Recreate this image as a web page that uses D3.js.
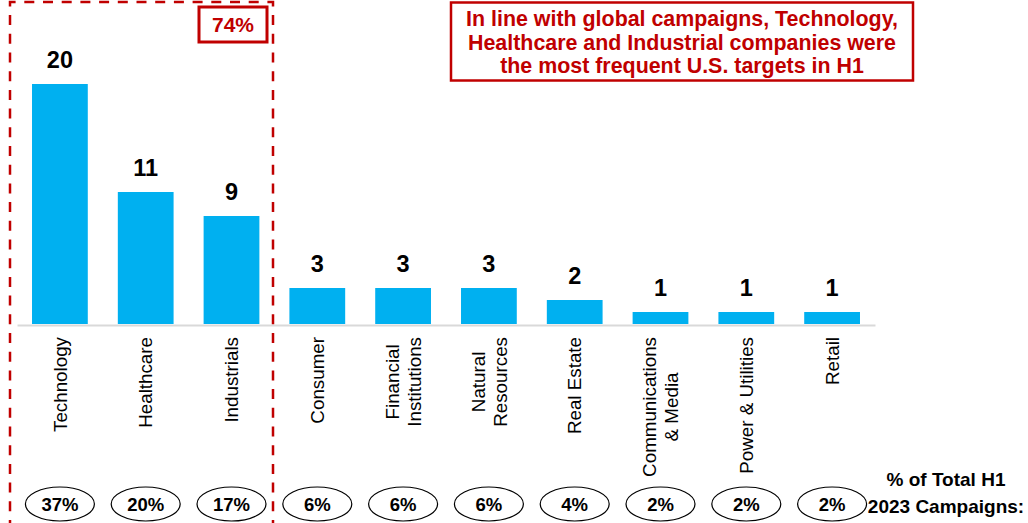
<!DOCTYPE html>
<html>
<head>
<meta charset="utf-8">
<script src="https://cdn.jsdelivr.net/npm/d3@7"></script>
<style>
  html, body { margin: 0; padding: 0; background: #fff; }
  svg { display: block; font-family: "Liberation Sans", Arial, Helvetica, sans-serif; }
</style>
</head>
<body>
<svg id="chart" width="1028" height="523"></svg>
<script>
// U.S. activist campaigns by target sector, H1 2023
const categories = ["Technology", "Healthcare", "Industrials", "Consumer", "Financial\nInstitutions",
  "Natural\nResources", "Real Estate", "Communications\n& Media", "Power & Utilities", "Retail"];
const campaigns = [20, 11, 9, 3, 3, 3, 2, 1, 1, 1];
const shareLabels = ["37%", "20%", "17%", "6%", "6%", "6%", "4%", "2%", "2%", "2%"];
const topThreeShare = "74%";
const calloutLines = [
  "In line with global campaigns, Technology,",
  "Healthcare and Industrial companies were",
  "the most frequent U.S. targets in H1"
];
const shareTitle = ["% of Total H1", "2023 Campaigns:"];

const RED = "#C00000";
const BLUE = "#00B0F0";

const svg = d3.select("#chart");

const x = d3.scaleBand()
  .domain(categories)
  .range([17, 875])
  .paddingInner(0.35)
  .paddingOuter(0.175);

const baseY = 324;
const y = d3.scaleLinear().domain([0, 20]).range([baseY, 84]);

// Bars
svg.append("g").selectAll("rect")
  .data(categories)
  .join("rect")
  .attr("x", d => x(d))
  .attr("width", x.bandwidth())
  .attr("y", (d, i) => y(campaigns[i]))
  .attr("height", (d, i) => y(0) - y(campaigns[i]))
  .attr("fill", BLUE);

// Value labels above bars
svg.append("g").selectAll("text")
  .data(categories)
  .join("text")
  .attr("x", d => x(d) + x.bandwidth() / 2)
  .attr("y", (d, i) => y(campaigns[i]) - 16)
  .attr("text-anchor", "middle")
  .attr("font-size", 23.5)
  .attr("font-weight", "bold")
  .attr("fill", "#000")
  .text((d, i) => campaigns[i]);

// Category axis
const axis = svg.append("g")
  .attr("transform", `translate(0,${baseY + 1})`)
  .call(d3.axisBottom(x).tickSize(0).tickSizeOuter(0));
axis.select(".domain").attr("stroke", "#D9D9D9").attr("stroke-width", 2);
axis.selectAll(".tick text").remove();

// Rotated category labels (centred lines, reading upward)
const labelSize = 18.8, lineH = 22, capH = 0.716 * labelSize, labelTop = 337;
axis.selectAll(".tick").each(function (d) {
  const lines = d.split("\n");
  const g = d3.select(this).append("g")
    .attr("font-size", labelSize)
    .attr("fill", "#000");
  const texts = g.selectAll("text")
    .data(lines)
    .join("text")
    .attr("text-anchor", "middle")
    .text(t => t);
  let maxLen = 0;
  texts.each(function () { maxLen = Math.max(maxLen, this.getComputedTextLength()); });
  const span = capH + (lines.length - 1) * lineH;
  const firstBase = -span / 2 + capH;
  texts.attr("x", 0).attr("y", (t, i) => firstBase + i * lineH);
  g.attr("transform", `translate(0,${labelTop - (baseY + 1) + maxLen / 2}) rotate(-90)`);
});

// Share-of-total ellipses
const shares = svg.append("g").selectAll("g")
  .data(categories)
  .join("g")
  .attr("transform", d => `translate(${x(d) + x.bandwidth() / 2},504)`);
shares.append("ellipse")
  .attr("rx", 34.5).attr("ry", 17)
  .attr("fill", "#fff").attr("stroke", "#000").attr("stroke-width", 1.2);
shares.append("text")
  .attr("text-anchor", "middle")
  .attr("y", 6.5)
  .attr("font-size", 18.5)
  .attr("font-weight", "bold")
  .text((d, i) => shareLabels[i]);

svg.append("g").selectAll("text")
  .data(shareTitle)
  .join("text")
  .attr("x", 946)
  .attr("y", (d, i) => 486 + i * 27)
  .attr("text-anchor", "middle")
  .attr("font-size", 19)
  .attr("font-weight", "bold")
  .text(d => d);

// Dashed bracket around the top three sectors
svg.append("path")
  .attr("d", "M10,530 L10,2 L273,2 L273,530")
  .attr("fill", "none")
  .attr("stroke", RED)
  .attr("stroke-width", 2.5)
  .attr("stroke-dasharray", "10,8.7");

svg.append("rect")
  .attr("x", 199).attr("y", 7).attr("width", 68).attr("height", 35)
  .attr("fill", "#fff").attr("stroke", RED).attr("stroke-width", 3);
svg.append("text")
  .attr("x", 233).attr("y", 32)
  .attr("text-anchor", "middle")
  .attr("font-size", 21)
  .attr("font-weight", "bold")
  .attr("fill", RED)
  .text(topThreeShare);

// Callout box
svg.append("rect")
  .attr("x", 451).attr("y", 2.5).attr("width", 462).attr("height", 78)
  .attr("fill", "#fff").attr("stroke", RED).attr("stroke-width", 2.5);
svg.append("g").selectAll("text")
  .data(calloutLines)
  .join("text")
  .attr("x", 682)
  .attr("y", (d, i) => 26 + i * 23.7)
  .attr("text-anchor", "middle")
  .attr("font-size", 21.4)
  .attr("font-weight", "bold")
  .attr("fill", RED)
  .text(d => d);
</script>
</body>
</html>
